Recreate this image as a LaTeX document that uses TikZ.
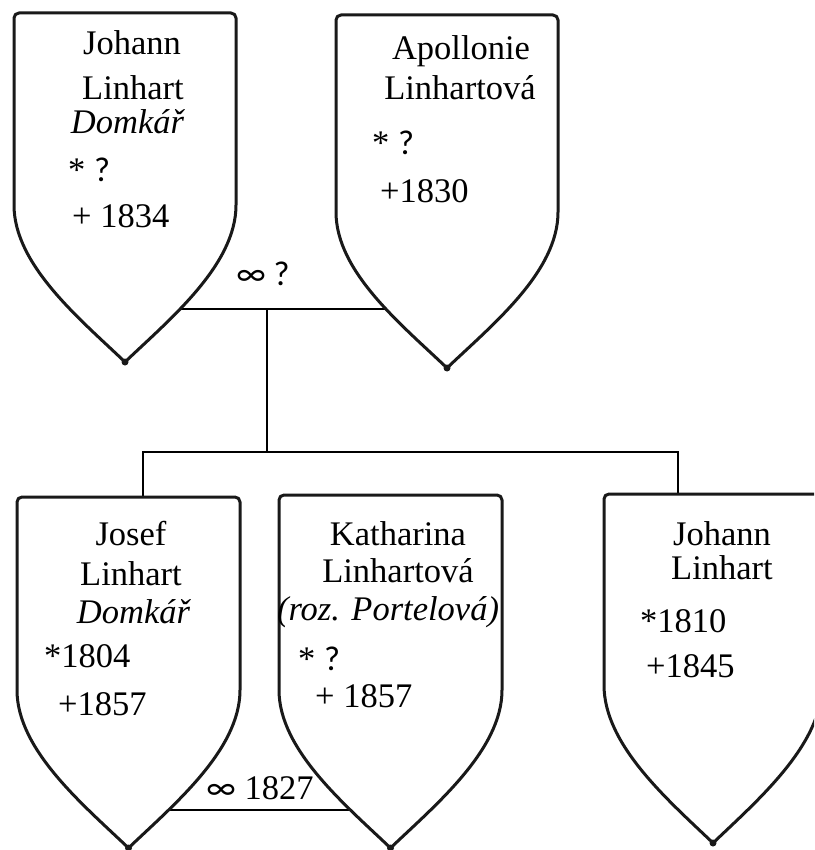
\documentclass[tikz,border=0pt]{standalone}
\usepackage{fontspec}
\setmainfont{Liberation Serif}
\newfontfamily\calfont{Carlito}
\usepackage{xcolor}

\tikzset{
  shieldline/.style={draw=black!90, line width=3pt, fill=white, line join=round},
  tie/.style={draw=black, line width=1.7pt},
  txt/.style={inner sep=0pt, anchor=base, font=\fontsize{34.5}{40}\selectfont},
  date/.style={txt, anchor=base west}
}

% L, R, top, end of straight side, tip
\newcommand{\shield}[5]{%
  \draw[shieldline] (#1,#4) {[rounded corners=5pt] -- (#1,#3) -- (#2,#3)} -- (#2,#4)
    .. controls (#2,#4+60) and ({(#1+#2)/2+45},#5-43) .. ({(#1+#2)/2},#5)
    .. controls ({(#1+#2)/2-45},#5-43) and (#1,#4+60) .. cycle;
  \fill[black!90] ({(#1+#2)/2},#5) circle (3.5);
}

\begin{document}
\begin{tikzpicture}[x=1pt,y=-1pt]
    \clip (0,0) rectangle (814,850);
    \fill[white] (0,0) rectangle (814,850);

    % connectors first, shields cover them
    \coordinate (s1c) at (125,309);
    \coordinate (s2c) at (447,309);
    \coordinate (fam) at (267,309);
    \coordinate (bar) at (267,452);
    \coordinate (barl) at (143,452);
    \coordinate (barr) at (678,452);
    \coordinate (s3t) at (143,497);
    \coordinate (s5t) at (678,494);
    \coordinate (s3c) at (128,810);
    \coordinate (s4c) at (390,810);
    \draw[tie] (s1c) -- (s2c);
    \draw[tie] (fam) -- (bar);
    \draw[tie] (s3t) -- (barl) -- (barr) -- (s5t);
    \draw[tie] (s3c) -- (s4c);

    \shield{14}{236}{13}{205}{362}
    \shield{336}{558}{15}{212}{368}
    \shield{17}{240}{497}{690}{848}
    \shield{279}{502}{495}{690}{848}
    \shield{604}{822}{494}{685}{843}

    \node[txt] (m1) at (263,285) {{\calfont ∞ ?}};
    \node[txt] (m2) at (260,799) {{\calfont ∞} 1827};

    % Johann Linhart
    \node[txt] (a1) at (132,55) {Johann};
    \node[txt] (a2) at (133,100) {Linhart};
    \node[txt] (a3) at (128,134) {\textit{Domkář}};
    \node[date] (a4) at (68,182) {* {\calfont ?}};
    \node[date] (a5) at (72,228) {+ 1834};

    % Apollonie
    \node[txt] (b1) at (461,60) {Apollonie};
    \node[txt] (b2) at (460,100) {Linhartová};
    \node[date] (b3) at (372,155) {* {\calfont ?}};
    \node[date] (b4) at (380,203) {+1830};

    % Josef
    \node[txt] (c1) at (131,545) {Josef};
    \node[txt] (c2) at (131,585) {Linhart};
    \node[txt] (c3) at (134,623) {\textit{Domkář}};
    \node[date] (c4) at (44,667) {*1804};
    \node[date] (c5) at (58,715) {+1857};

    % Katharina
    \node[txt] (d1) at (398,545) {Katharina};
    \node[txt] (d2) at (398,582) {Linhartová};
    \node[txt] (d3) at (388,620) {\textit{(roz. Portelová)}};
    \node[date] (d4) at (298,670) {* {\calfont ?}};
    \node[date] (d5) at (315,707) {+ 1857};

    % Johann jr.
    \node[txt] (e1) at (722,545) {Johann};
    \node[txt] (e2) at (722,579) {Linhart};
    \node[date] (e3) at (640,632) {*1810};
    \node[date] (e4) at (646,677) {+1845};
\end{tikzpicture}
\end{document}
